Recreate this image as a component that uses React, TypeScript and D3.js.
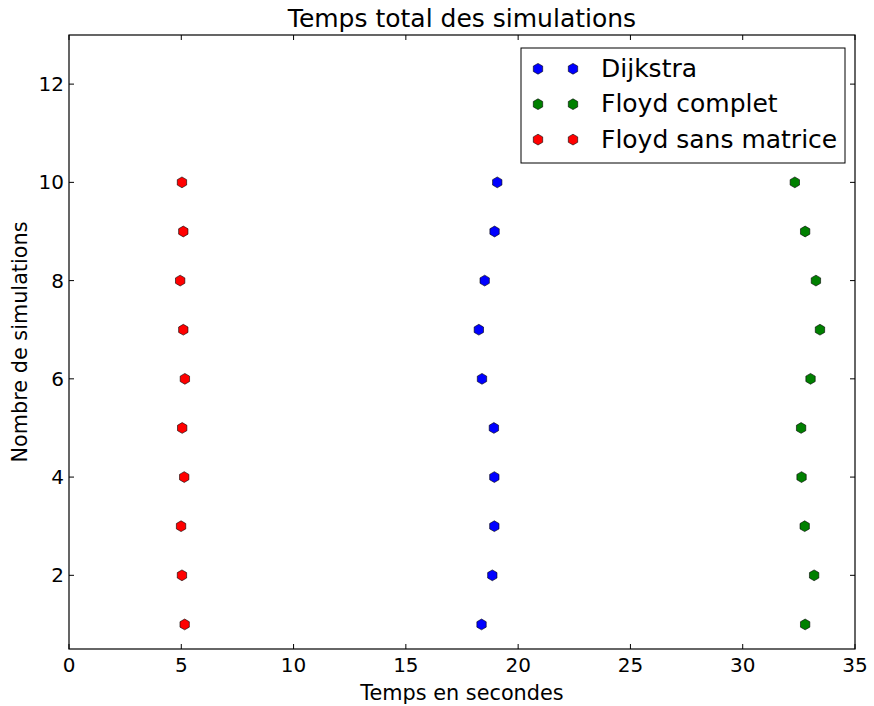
import React from "react";
import * as d3 from "d3";

const simulations = [1, 2, 3, 4, 5, 6, 7, 8, 9, 10];
const dijkstra = [18.37, 18.85, 18.94, 18.94, 18.92, 18.39, 18.25, 18.51, 18.95, 19.07];
const floydComplet = [32.78, 33.18, 32.76, 32.62, 32.6, 33.02, 33.44, 33.26, 32.78, 32.32];
const floydSansMatrice = [5.15, 5.03, 4.99, 5.13, 5.04, 5.16, 5.09, 4.95, 5.09, 5.03];
const seriesNames = ["Dijkstra", "Floyd complet", "Floyd sans matrice"];
const seriesColors = ["#0000ff", "#008000", "#ff0000"];
const xTicks = [0, 5, 10, 15, 20, 25, 30, 35];
const yTicks = [2, 4, 6, 8, 10, 12];

const W = 874, H = 706;
const L = 69, R = 855, T = 35, B = 649;
const FONT = "DejaVu Sans, sans-serif";

function hexPath(cx: number, cy: number, r: number) {
  const pts: [number, number][] = d3.range(6).map((k) => {
    const a = (Math.PI / 180) * (90 + k * 60);
    return [cx + r * Math.cos(a), cy - r * Math.sin(a)];
  });
  return d3.line()(pts) + "Z";
}

export default function App() {
  const x = d3.scaleLinear().domain([0, 35]).range([L, R]);
  const y = d3.scaleLinear().domain([0.5, 13]).range([B, T]);
  const allSeries = [dijkstra, floydComplet, floydSansMatrice];
  const tl = 5;
  const legX = 521, legY = 48, legW = 324, legH = 115;
  const mr = 5.4;
  return (
    <svg width={W} height={H} style={{ position: "absolute", left: 0, top: 0 }} fontFamily={FONT}>
      <rect width={W} height={H} fill="#fff" />
      <text x={(L + R) / 2} y={27} textAnchor="middle" fontSize={25}>Temps total des simulations</text>
      {allSeries.map((s, i) =>
        s.map((v, j) => (
          <path key={`${i}-${j}`} d={hexPath(x(v), y(simulations[j]), mr)} fill={seriesColors[i]} stroke="#000" strokeWidth={0.6} />
        ))
      )}
      <rect x={L} y={T} width={R - L} height={B - T} fill="none" stroke="#000" strokeWidth={1.2} />
      {xTicks.map((t) => (
        <g key={"x" + t}>
          <line x1={x(t)} x2={x(t)} y1={B} y2={B - tl} stroke="#000" />
          <line x1={x(t)} x2={x(t)} y1={T} y2={T + tl} stroke="#000" />
          <text x={x(t)} y={B + 23} textAnchor="middle" fontSize={20}>{t}</text>
        </g>
      ))}
      {yTicks.map((t) => (
        <g key={"y" + t}>
          <line x1={L} x2={L + tl} y1={y(t)} y2={y(t)} stroke="#000" />
          <line x1={R} x2={R - tl} y1={y(t)} y2={y(t)} stroke="#000" />
          <text x={L - 5} y={y(t) + 7} textAnchor="end" fontSize={20}>{t}</text>
        </g>
      ))}
      <text x={(L + R) / 2} y={700} textAnchor="middle" fontSize={20.8}>Temps en secondes</text>
      <text transform={`translate(27,${(T + B) / 2}) rotate(-90)`} textAnchor="middle" fontSize={20.8}>Nombre de simulations</text>
      <rect x={legX} y={legY} width={legW} height={legH} fill="#fff" stroke="#000" strokeWidth={1} />
      {seriesNames.map((n, i) => {
        const cy = legY + 20.8 + i * 35.4;
        return (
          <g key={n}>
            <path d={hexPath(538, cy, mr)} fill={seriesColors[i]} stroke="#000" strokeWidth={0.6} />
            <path d={hexPath(573, cy, mr)} fill={seriesColors[i]} stroke="#000" strokeWidth={0.6} />
            <text x={601} y={cy + 8} fontSize={25}>{n}</text>
          </g>
        );
      })}
    </svg>
  );
}
